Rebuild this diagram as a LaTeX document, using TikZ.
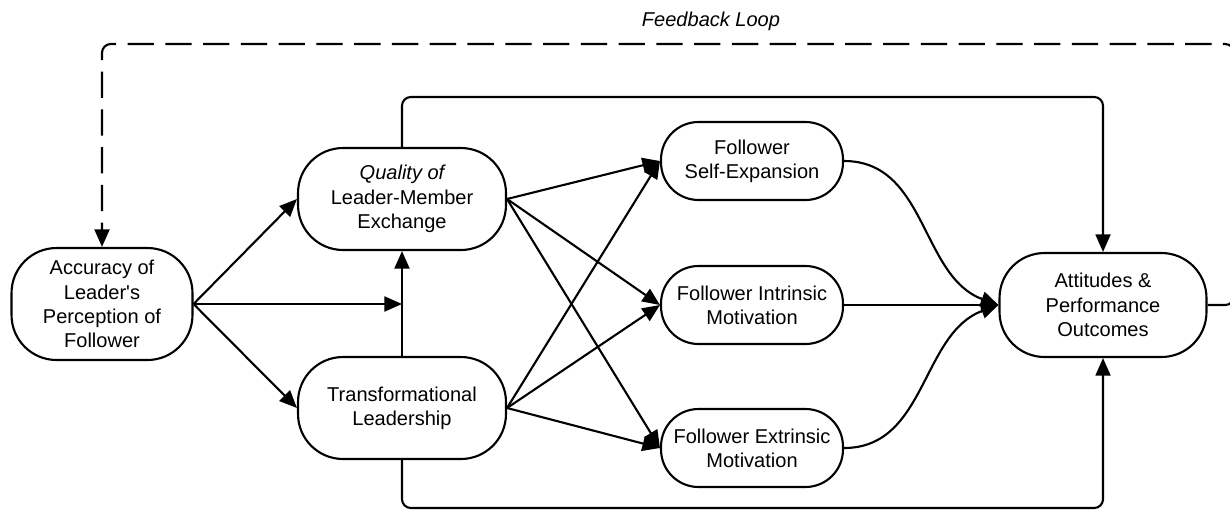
\documentclass[tikz,border=0pt]{standalone}
\usepackage{fontspec}
\setmainfont{Liberation Sans}
\usetikzlibrary{arrows.meta}
\tikzset{
    box/.style={draw, line width=1.2pt, rounded corners=0.75cm, align=center,
                inner sep=0pt, font=\fontsize{11.4}{13.8}\selectfont},
    bigbox/.style={box, rounded corners=0.9cm},
    arr/.style={line width=1.2pt, -{Triangle[length=10pt,width=8.5pt]}},
    feedback/.style={arr, dash pattern=on 15pt off 6.5pt, rounded corners=5pt}
}
\begin{document}
\begin{tikzpicture}[x=0.02cm,y=-0.02cm]
                \useasboundingbox (0,0) rectangle (1230,511);
                %nodes
                \node[bigbox, minimum width=3.62cm, minimum height=2.24cm] (acc) at (102,304)
                    {Accuracy of\\Leader\textquotesingle s\\Perception of\\Follower};
                \node[bigbox, minimum width=4.16cm, minimum height=2.04cm] (lmx) at (402,199)
                    {\itshape Quality of\\Leader-Member\\Exchange};
                \node[bigbox, minimum width=4.16cm, minimum height=2.04cm] (tfl) at (402,408)
                    {Transformational\\Leadership};
                \node[box, minimum width=3.64cm, minimum height=1.56cm] (selfexp) at (752,161)
                    {Follower\\Self-Expansion};
                \node[box, minimum width=3.64cm, minimum height=1.56cm] (intr) at (752,305)
                    {Follower Intrinsic\\Motivation};
                \node[box, minimum width=3.64cm, minimum height=1.56cm] (extr) at (752,448)
                    {Follower Extrinsic\\Motivation};
                \node[bigbox, minimum width=4.14cm, minimum height=2.08cm] (outc) at (1103,305)
                    {Attitudes \&\\Performance\\Outcomes};
                \node[font=\fontsize{11.4}{13.8}\selectfont\itshape] (fblabel) at (711,21) {Feedback Loop};
                %helper points
                \coordinate (ctop) at (1103,97);
                \coordinate (cbot) at (1103,508);
                \coordinate (fbr) at (1234,44);
                %left part
                \draw[arr] (acc.east) -- (lmx.west);
                \draw[arr] (acc.east) -- (tfl.west);
                \draw[arr] (acc.east) -- (acc.east -| lmx.south);
                \draw[arr] (tfl.north) -- (lmx.south);
                %middle part
                \foreach \f in {selfexp,intr,extr}
                    {
                    \draw[arr] (lmx.east) -- (\f.west);
                    \draw[arr] (tfl.east) -- (\f.west);
                    }
                %right part
                \draw[arr] (selfexp.east) to[out=0,in=160] (outc.west);
                \draw[arr] (intr.east) -- (outc.west);
                \draw[arr] (extr.east) to[out=0,in=200] (outc.west);
                \draw[arr, rounded corners=5pt] (lmx.north) |- (ctop) -- (outc.north);
                \draw[arr, rounded corners=5pt] (tfl.south) |- (cbot) -- (outc.south);
                \draw[feedback] (outc.east) -| (fbr) -| (acc.north);
            \end{tikzpicture}
\end{document}
